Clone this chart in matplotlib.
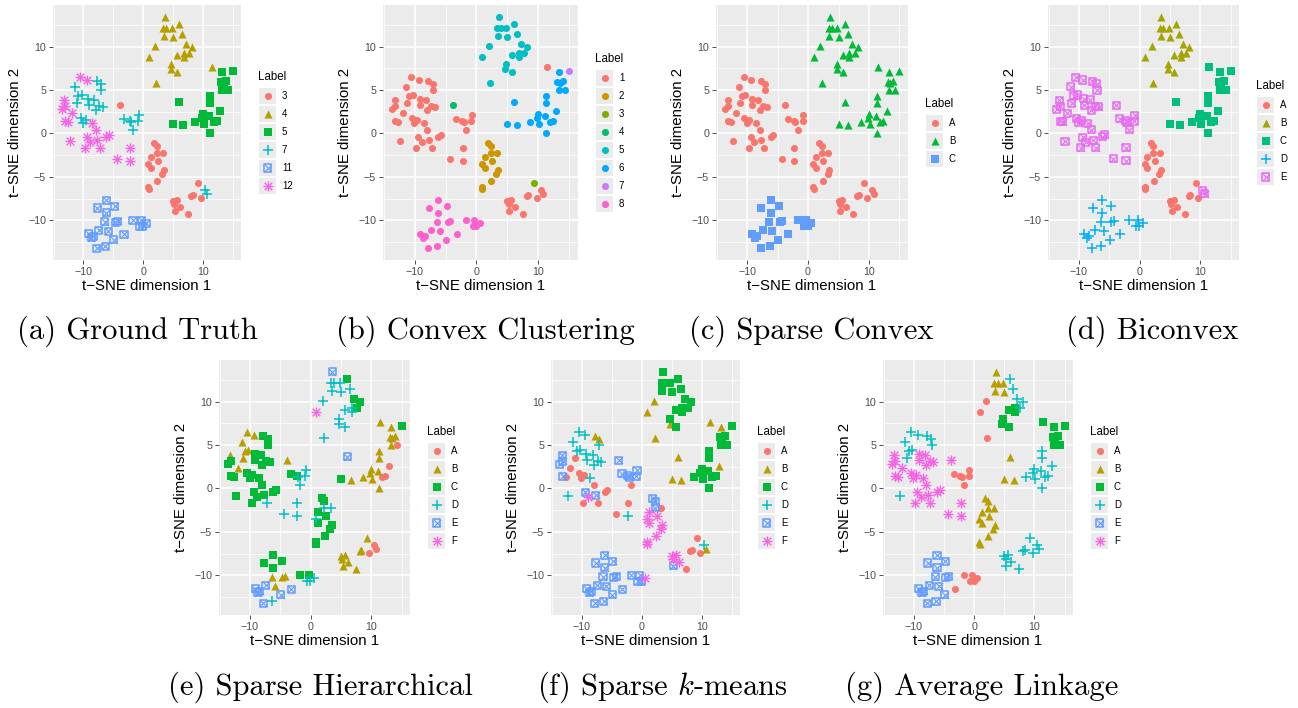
import matplotlib
matplotlib.use("Agg")
import matplotlib.pyplot as plt
from matplotlib.patches import Rectangle

W, H = 1298, 708

# t-SNE embedding shared by all seven panels
tsne_x = [
    # upper cluster
    3.59, 3.37, 3.91, 4.78, 6.03, 3.48, 5.0, 6.52, 2.0, 7.17,
    8.15, 0.92, 5.71, 6.79, 7.67, 6.79, 4.73, 4.67, 5.76, 2.22,
    # two stragglers on the right
    11.47, 15.0,
    # right cluster
    13.26, 13.05, 13.48, 13.92, 13.26, 14.24, 11.26, 11.26, 6.03, 12.89,
    10.0, 9.79, 11.1, 8.65, 10.16, 11.8, 12.33, 5.0, 6.62, 11.26,
    # left cluster
    -10.5, -9.36, -7.78, -7.08, -11.37, -7.02, -10.83, -10.28, -9.2, -8.16,
    -13.21, -11.16, -9.14, -7.34, -6.75, -7.94, -13.11, -13.65, -11.9, -10.44,
    -9.62, -10.06, -8.55, -7.94, -13.11, -12.67, -12.3, -9.41, -8.87, -9.74,
    -7.67, -7.24, -6.15, -5.71,
    # middle group
    -3.26, -2.28, -2.07, -0.77, -0.88, -1.69, -2.24, -4.3, -2.24,
    -3.82,
    # centre cluster
    1.84, 2.28, 2.28, 3.31, 1.3, 2.5, 0.86, 1.3, 3.47, 3.2,
    2.39, 0.86, 0.92,
    # lower right cluster
    5.0, 5.65, 5.22, 6.2, 5.27, 7.44, 8.1, 8.37, 9.72, 10.44,
    10.77,
    9.24,
    # lower left cluster
    -6.15, -4.79, -7.67, -6.15, -6.43, -4.68, -4.24, -1.69, -0.33, 0.49,
    -0.6, -0.06, -9.14, -7.4, -5.87, -3.21, -8.38, -8.71, -4.89, -7.78,
    -6.31,
]
tsne_y = [
    13.45, 12.18, 12.15, 12.18, 12.6, 11.22, 11.07, 11.49, 10.1, 10.3,
    9.95, 8.8, 9.07, 8.8, 9.3, 9.3, 8.03, 7.45, 7.1, 5.84,
    7.6, 7.2,
    7.1, 5.95, 5.84, 6.07, 5.0, 5.0, 4.34, 3.46, 3.65, 2.57,
    2.19, 1.73, 2.0, 1.27, 1.07, 1.34, 1.45, 1.07, 0.96, 0.0,
    6.49, 6.15, 6.03, 5.72, 5.38, 4.96, 4.34, 4.42, 3.99, 3.88,
    3.81, 3.46, 3.23, 3.11, 3.07, 2.65, 3.15, 2.8, 2.34, 1.73,
    1.5, 1.22, 1.15, 0.42, 1.38, 1.34, -0.89, -0.46, -1.0, -1.62,
    -0.77, -1.62, -0.39, -0.16,
    1.68, 1.45, 1.27, 2.11, 1.42, 0.45, -1.62, -2.89, -3.16,
    3.26,
    -1.15, -1.46, -2.2, -2.2, -2.7, -3.16, -3.54, -3.96, -4.23, -4.61,
    -5.46, -6.15, -6.38,
    -7.77, -7.69, -8.08, -8.5, -8.88, -9.23, -7.23, -7.04, -7.38, -6.54,
    -6.92,
    -5.7,
    -7.69, -8.39, -8.58, -9.11, -10.15, -10.23, -10.12, -10.0, -10.0, -10.31,
    -10.69, -10.69, -11.53, -11.15, -11.27, -11.58, -11.85, -12.0, -12.23, -13.23,
    -13.0,
]

# cluster labels, same point order as above
labels_truth = """
4 4 4 4 4 4 4 4 4 4 4 4 4 4 4 4 4 4 4 4
4 5
5 5 5 5 5 5 5 5 5 5 5 5 5 5 5 5 5 5 5 5
12 12 7 7 7 7 7 7 7 7 12 7 7 7 7 7 12 12 12 7 7 7 12 12 12 12 12 12 12 12 12 12 12 12
7 7 7 7 7 7 12 12 12
3
3 3 3 3 3 3 3 3 3 3 3 3 3
3 3 3 3 3 3 3 3 3 7 7
3
11 11 11 11 11 11 11 11 11 11 11 11 11 11 11 11 11 11 11 11 11
""".split()
labels_convex = """
5 5 5 5 5 5 5 5 5 5 5 5 5 5 5 5 5 5 5 5
1 7
6 6 6 6 6 6 6 6 6 6 6 6 6 6 6 6 6 6 6 6
1 1 1 1 1 1 1 1 1 1 1 1 1 1 1 1 1 1 1 1 1 1 1 1 1 1 1 1 1 1 1 1 1 1
1 1 1 1 1 1 1 1 1
4
2 2 2 2 2 2 2 2 2 2 2 2 2
1 1 1 1 1 1 1 1 1 1 1
3
8 8 8 8 8 8 8 8 8 8 8 8 8 8 8 8 8 8 8 8 8
""".split()
labels_sparse_convex = """
B B B B B B B B B B B B B B B B B B B B
B B
B B B B B B B B B B B B B B B B B B B B
A A A A A A A A A A A A A A A A A A A A A A A A A A A A A A A A A A
A A A A A A A A A
A
A A A A A A A A A A A A A
A A A A A A A A A A A
A
C C C C C C C C C C C C C C C C C C C C C
""".split()
labels_biconvex = """
B B B B B B B B B B B B B B B B B B B B
C C
C C C C C C C C C C C C C C C C C C C C
E E E E E E E E E E E E E E E E E E E E E E E E E E E E E E E E E E
E E E E E E E E E
E
A A A A A A A A A A A A A
A A A A A A A A A E E
A
D D D D D D D D D D D D D D D D D D D D D
""".split()
labels_hier = """
E D D D C D D D D C C F D D C D D D D D
B C
B B B B B A B B E A B B B B B A A C B B
B B C C B C B B C C B B C C C C C C B C C C C C C C C C C C C D C C
C C D D D D D D D
B
C C D D C C D C C C C C C
B B B B B B B B A A A
B
C C C C B B B C C D D D E E B E E E E E D
""".split()
labels_kmeans = """
C C C C C C C C B C C B C C C C C B C B
B C
B C C C C C C C B B C C C C C C C B B C
D D B B D D D D D D E A D D D D E E A A A A D A E A D E F A E A A A
E E E E E A A A D
E
E E E A F F F F F F F F F
F F F F E A A A A D B
A
E E E E E E E E E F E E E E E E E E E E E
""".split()
labels_avg = """
B B B B D B B D A D D A C C D C C C C A
C C
C C C C C C D D B D D D D D D D D B B D
D D D D D D D D F F F D F F F F F F F F F F F F F F D F F F F F F F
A A A A A A F F F
F
B B B B B B B B B B B B B
D D D D D D D D D D D
D
E E E E E E E A A A A A E E E A E E E E E
""".split()

levels_truth = ["3", "4", "5", "7", "11", "12"]
levels_convex = ["1", "2", "3", "4", "5", "6", "7", "8"]
levels_sparse_convex = ["A", "B", "C"]
levels_biconvex = ["A", "B", "C", "D", "E"]
levels_six = ["A", "B", "C", "D", "E", "F"]

hue3 = ["#F8766D", "#00BA38", "#619CFF"]
hue5 = ["#F8766D", "#A3A500", "#00BF7D", "#00B0F6", "#E76BF3"]
hue6 = ["#F8766D", "#B79F00", "#00BA38", "#00BFC4", "#619CFF", "#F564E3"]
hue8 = ["#F8766D", "#CD9600", "#7CAE00", "#00BE67", "#00BFC4", "#00A9FF",
        "#C77CFF", "#FF61CC"]
shapes6 = ["circle", "triangle", "square", "plus", "boxcross", "asterisk"]

SANS = "Liberation Sans"
plt.rcParams["mathtext.fontset"] = "cm"


def fx(px):
    return px / W


def fy(py):
    return 1 - py / H


def put_marker(ax, xs, ys, color, shape, **kw):
    if shape == "circle":
        ax.scatter(xs, ys, s=26, marker="o", color=color, linewidths=0, **kw)
    elif shape == "triangle":
        ax.scatter(xs, ys, s=34, marker="^", color=color, linewidths=0, **kw)
    elif shape == "square":
        ax.scatter(xs, ys, s=26, marker="s", color=color, linewidths=0, **kw)
    elif shape == "plus":
        ax.scatter(xs, ys, s=55, marker="+", color=color, linewidths=1.1, **kw)
    elif shape == "boxcross":
        ax.scatter(xs, ys, s=26, marker="s", facecolors="none",
                   edgecolors=color, linewidths=1.1, **kw)
        ax.scatter(xs, ys, s=26, marker="x", color=color, linewidths=0.8, **kw)
    elif shape == "asterisk":
        ax.scatter(xs, ys, s=50, marker="+", color=color, linewidths=1.0, **kw)
        ax.scatter(xs, ys, s=30, marker="x", color=color, linewidths=1.0, **kw)


def panel(fig, box, labels, levels, colors, shapes, caption, cap_x, cap_y):
    l, r, t, b = box
    ax = fig.add_axes([fx(l), fy(b), fx(r - l), (b - t) / H])
    ax.set_facecolor("#EBEBEB")
    for s in ax.spines.values():
        s.set_visible(False)
    ax.set_xlim(-15.1, 16.4)
    ax.set_ylim(-14.56, 14.78)
    ax.set_xticks([-10, 0, 10])
    ax.set_xticklabels(["\u221210", "0", "10"])
    ax.set_yticks([-10, -5, 0, 5, 10])
    ax.set_yticklabels(["\u221210", "\u22125", "0", "5", "10"])
    ax.set_xticks([-15, -5, 5, 15], minor=True)
    ax.set_yticks([-12.5, -7.5, -2.5, 2.5, 7.5, 12.5], minor=True)
    ax.tick_params(which="major", length=3, width=0.6, color="#333333", pad=2,
                   labelsize=7.7, labelcolor="#4D4D4D")
    ax.tick_params(which="minor", length=0)
    for lab in ax.get_xticklabels() + ax.get_yticklabels():
        lab.set_family(SANS)
    ax.grid(which="major", color="white", linewidth=1.1)
    ax.grid(which="minor", color="white", linewidth=0.55)
    ax.set_axisbelow(True)

    for lev, col, shp in zip(levels, colors, shapes):
        px = [x for x, lab in zip(tsne_x, labels) if lab == lev]
        py = [y for y, lab in zip(tsne_y, labels) if lab == lev]
        put_marker(ax, px, py, col, shp, zorder=3)

    fig.text(fx(l - 38), fy((t + b) / 2), "t\u2212SNE dimension 2", rotation=90,
             ha="center", va="center", family=SANS, size=10.8)
    fig.text(fx((l + r) / 2), fy(b + 26), "t\u2212SNE dimension 1",
             ha="center", va="center", family=SANS, size=10.8)

    # legend: stacked grey keys with the label to the right
    n = len(levels)
    key_l = r + 18
    mid = (t + b) / 2 + 8.5
    top = mid - 18 * n / 2
    lg = fig.add_axes([fx(key_l), fy(top + 18 * n), fx(17), 18 * n / H])
    lg.set_xlim(0, 1)
    lg.set_ylim(n, 0)
    lg.axis("off")
    for i, (lev, col, shp) in enumerate(zip(levels, colors, shapes)):
        lg.add_patch(Rectangle((0, i + 0.03), 1, 0.94, color="#EBEBEB", lw=0))
        put_marker(lg, [0.5], [i + 0.5], col, shp, zorder=3, clip_on=False)
        lg.text(1.35, i + 0.5, lev, ha="left", va="center", family=SANS, size=7)
    lg.text(-0.05, -0.55, "Label", ha="left", va="center", family=SANS, size=8.3)

    fig.text(fx(cap_x), fy(cap_y), caption, ha="center", va="center",
             family="cmr10", size=22)


fig = plt.figure(figsize=(W / 100, H / 100), dpi=100)

panel(fig, (53, 241, 5, 260), labels_truth, levels_truth, hue6, shapes6,
      "(a) Ground Truth", 137, 331)
panel(fig, (383, 578, 5, 260), labels_convex, levels_convex, hue8, ["circle"] * 8,
      "(b) Convex Clustering", 485, 331)
panel(fig, (716, 908, 5, 260), labels_sparse_convex, levels_sparse_convex, hue3,
      shapes6[:3], "(c) Sparse Convex", 811, 331)
panel(fig, (1048, 1239, 5, 260), labels_biconvex, levels_biconvex, hue5,
      shapes6[:5], "(d) Biconvex", 1152, 331)
panel(fig, (219, 410, 360, 615), labels_hier, levels_six, hue6, shapes6,
      "(e) Sparse Hierarchical", 320, 687)
panel(fig, (551, 740, 360, 615), labels_kmeans, levels_six, hue6, shapes6,
      "(f) Sparse $k$-means", 662, 687)
panel(fig, (883, 1073, 360, 615), labels_avg, levels_six, hue6, shapes6,
      "(g) Average Linkage", 982, 687)

fig.savefig("out.png", dpi=100, facecolor="white")
